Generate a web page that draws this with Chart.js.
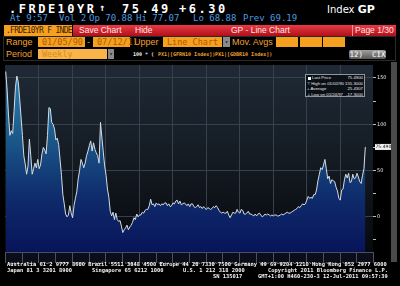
<!DOCTYPE html>
<html>
<head>
<meta charset="utf-8">
<script src="https://cdn.jsdelivr.net/npm/chart.js@4.4.1/dist/chart.umd.min.js"></script>
<style>
  html, body { margin: 0; padding: 0; background: #000; width: 400px; height: 286px; overflow: hidden; }
  body { position: relative; font-family: "DejaVu Sans Mono", monospace; color: #fff; }
  .a { position: absolute; white-space: pre; line-height: 1; }
  .big { font-size: 12px; font-weight: bold; letter-spacing: 2.5px; top: 3px; }
  .blue { font-size: 9px; color: #4a9be0; top: 14px; }
  .lbl { font-family: "Liberation Sans", sans-serif; font-size: 9px; color: #f0a030; }
  .box { background: #f5a01e; color: #b05800; font-size: 8.5px; height: 10px; line-height: 10px; padding-left: 4px; box-sizing: border-box; }
  .drop { background: #8a8a8a; height: 10px; width: 7px; color: #222; font-size: 6px; line-height: 10px; text-align: center; }
  .red { font-family: "Liberation Sans", sans-serif; font-size: 8.5px; color: #ffe6e6; top: 26px; }
  .tiny { font-size: 5px; font-weight: bold; top: 52px; }
  .foot { font-size: 5.4px; font-weight: bold; color: #f4f4f4; }
  .leg { font-family: "Liberation Sans", sans-serif; font-size: 4.3px; color: #e8e8e8; }
</style>
</head>
<body>
<!-- top line -->
<div class="a big" style="left:9px;">.FRDE10YR</div>
<div class="a" style="left:99px;top:3px;font-size:10px;font-weight:bold;">↑</div>
<div class="a big" style="left:122px;">75.49</div>
<div class="a big" style="left:179px;">+6.30</div>
<div class="a" style="left:327px;top:4px;font-family:'DejaVu Sans';font-size:10px;">Index <b style="font-size:11px;">GP</b></div>

<div class="a blue" style="left:10px;">At 9:57</div>
<div class="a blue" style="left:59px;">Vol 2</div>
<div class="a blue" style="left:89px;">Op 70.88</div>
<div class="a blue" style="left:136px;">Hi 77.07</div>
<div class="a blue" style="left:193px;">Lo 68.88</div>
<div class="a blue" style="left:243px;">Prev 69.19</div>

<!-- red menu bar -->
<div class="a" style="left:73px;top:25px;width:323px;height:11px;background:linear-gradient(#e83a44,#b0101a);"></div>
<div class="a" style="left:4px;top:25px;width:68px;height:11px;background:#f5a020;color:#3c2200;font-size:8px;letter-spacing:-0.7px;line-height:11px;padding-left:2px;box-sizing:border-box;">.FRDE10YR F INDE</div>
<div class="a red" style="left:79px;">Save Chart</div>
<div class="a red" style="left:135px;">Hide</div>
<div class="a red" style="left:231px;">GP - Line Chart</div>
<div class="a" style="left:352px;top:25px;width:43px;height:11px;border-left:1px solid #ff9090;box-sizing:border-box;"></div>
<div class="a red" style="left:355px;">Page 1/30</div>

<!-- settings rows -->
<div class="a" style="left:3px;top:36px;width:393px;height:25px;border:1px solid #2a2a2a;box-sizing:border-box;"></div>
<div class="a lbl" style="left:6px;top:38px;">Range</div>
<div class="a box" style="left:38px;top:37px;width:47px;">01/05/90</div>
<div class="a lbl" style="left:87px;top:38px;">-</div>
<div class="a box" style="left:93px;top:37px;width:37px;">07/12/11</div>
<div class="a lbl" style="left:134px;top:38px;">Upper</div>
<div class="a box" style="left:163px;top:37px;width:59px;">Line Chart</div>
<div class="a drop" style="left:223px;top:37px;">▾</div>
<div class="a lbl" style="left:232px;top:38px;">Mov. Avgs</div>
<div class="a box" style="left:276px;top:37px;width:22px;"></div>
<div class="a box" style="left:300px;top:37px;width:22px;"></div>
<div class="a box" style="left:323px;top:37px;width:22px;"></div>

<div class="a lbl" style="left:6px;top:50px;">Period</div>
<div class="a box" style="left:38px;top:49px;width:69px;background:#f8b448;color:#d98a1a;">Weekly</div>
<div class="a drop" style="left:108px;top:49px;width:6px;">▾</div>
<div class="a tiny" style="left:133px;color:#eeeeee;">100 * (</div>
<div class="a tiny" style="left:158px;color:#f0a030;">PX1|[GFRN10 Index]) -</div>
<div class="a tiny" style="left:215px;color:#f0a030;">PX1|[GDBR10 Index])</div>
<div class="a" style="left:349px;top:50px;width:37px;height:9px;border-radius:2px;background:linear-gradient(#a0a0a0,#585858);font-size:7.5px;line-height:9px;text-align:center;">12)  CIX</div>

<!-- chart -->
<canvas id="chart" width="391" height="203" style="position:absolute;left:0;top:61px;"></canvas>
<div class="a" style="left:391px;top:62px;width:6px;height:200px;background:#4a4a4a;"></div>

<!-- legend box inside plot -->
<div class="a" style="left:305px;top:74px;width:60px;height:23px;border:1px solid #8a96a0;background:#0b1016;box-sizing:border-box;"></div>
<div class="a" style="left:308px;top:76.5px;width:3px;height:3px;background:#fff;"></div>
<div class="a leg" style="left:312px;top:76px;">Last Price</div>
<div class="a leg" id="lastVal" style="right:37px;top:76px;"></div>
<div class="a leg" style="left:307px;top:81.5px;">⊤ High on 01/02/90</div>
<div class="a leg" style="right:37px;top:81.5px;">155.3000</div>
<div class="a leg" style="left:307px;top:87px;">+ Average</div>
<div class="a leg" style="right:37px;top:87px;">25.4307</div>
<div class="a leg" style="left:307px;top:92.5px;">⊥ Low on 01/24/97</div>
<div class="a leg" style="right:37px;top:92.5px;">-17.3000</div>

<!-- footer -->
<div class="a foot" style="left:7px;top:262px;">Australia 61 2 9777 8600 Brazil 5511 3048 4500 Europe 44 20 7330 7500 Germany 49 69 9204 1210 Hong Kong 852 2977 6000</div>
<div class="a foot" style="left:7px;top:268px;">Japan 81 3 3201 8900</div>
<div class="a foot" style="left:92px;top:268px;">Singapore 65 6212 1000</div>
<div class="a foot" style="left:183px;top:268px;">U.S. 1 212 318 2000</div>
<div class="a foot" style="left:268px;top:268px;">Copyright 2011 Bloomberg Finance L.P.</div>
<div class="a foot" style="left:213px;top:274px;">SN 135017</div>
<div class="a foot" style="left:258px;top:274px;">GMT+1:00 H460-230-3 12-Jul-2011 09:57:39</div>

<script>
  "use strict";

  // ── Data: France - Germany 10y spread (bp), one reading per month ──
  const years = [1990, 1991, 1992, 1993, 1994, 1995, 1996, 1997, 1998, 1999, 2000,
                 2001, 2002, 2003, 2004, 2005, 2006, 2007, 2008, 2009, 2010, 2011];

  const spread = [
    157, 138, 110, 88, 93, 90, 114, 140, 152, 146, 128, 108,   // 1990
    88, 66, 57, 46, 55, 84, 66, 46, 52, 58, 53, 62,            // 1991
    52, 56, 68, 75, 72, 68, 88, 118, 117, 102, 100, 95,        // 1992
    83, 85, 78, 62, 45, 24, 14, 3, 0, 2, 12, 4,                // 1993
    -1, 12, 20, 27, 41, 50, 62, 58, 53, 58, 66, 71,            // 1994
    77, 82, 71, 80, 73, 69, 66, 58, 102, 86, 70, 55,           // 1995
    45, 30, 21, 6, 1, 5, -3, 4, -3, -5, -4, -10,               // 1996
    -17, -14, -12, -9, -14, -11, -9, -6, -1, -3, 3, 0,         // 1997
    2, 2, 5, 4, 7, 8, 8, 12, 19, 13, 14, 11,                   // 1998
    15, 13, 14, 12, 14, 13, 15, 15, 12, 14, 11, 12,            // 1999
    15, 14, 17, 18, 14, 17, 13, 14, 15, 14, 12, 14,            // 2000
    11, 14, 14, 11, 10, 11, 13, 10, 11, 9, 11, 9,              // 2001
    8, 10, 9, 8, 9, 11, 10, 12, 10, 7, 5, 4,                   // 2002
    5, 4, 4, 6, 2, -1, 2, 5, 4, 4, 8, 5,                       // 2003
    4, 8, 7, 3, 3, 4, 6, 3, 3, 2, 1, 3,                        // 2004
    1, 3, 4, 2, 0, 1, 3, 2, 3, 2, 1, 2,                        // 2005
    1, 2, 2, 1, 1, 2, 3, 2, 3, 4, 5, 4,                        // 2006
    4, 5, 6, 7, 8, 9, 11, 10, 12, 14, 13, 14,                  // 2007
    18, 22, 20, 21, 20, 24, 24, 29, 39, 46, 53, 51,            // 2008
    56, 62, 52, 41, 44, 36, 40, 39, 38, 32, 28, 20,            // 2009
    18, 29, 30, 40, 46, 42, 47, 37, 38, 46, 41, 42,            // 2010
    47, 43, 38, 36, 45, 52, 75.49                              // 2011 (to July)
  ];

  const yTicks = [-25, 0, 25, 50, 75, 100, 125, 150];
  const yRange = [-38, 164];

  // month mid-points as decimal years
  const dates = [];
  years.forEach(function (y) {
    for (let m = 0; m < 12; m++) {
      if (dates.length < spread.length) dates.push(y + (m + 0.5) / 12);
    }
  });

  const lastPrice = spread[spread.length - 1];
  document.getElementById("lastVal").textContent = lastPrice.toFixed(4);

  const GRID = "#36414d";

  // ── Plugin: plot background, even-year grid, year strip, price tag ──
  const terminalLook = {
    id: "terminalLook",
    beforeDraw: function (chart) {
      const ctx = chart.ctx;
      const a = chart.chartArea;
      const g = ctx.createLinearGradient(0, a.top, 0, a.bottom);
      g.addColorStop(0, "#1f2a36");
      g.addColorStop(0.5, "#141b23");
      g.addColorStop(1, "#07090d");
      ctx.fillStyle = g;
      ctx.fillRect(a.left, a.top, a.right - a.left, a.bottom - a.top);
      ctx.fillStyle = "#0b0e1a";
      ctx.fillRect(a.left, a.bottom, a.right - a.left, chart.height - a.bottom - 1);
    },
    beforeDatasetsDraw: function (chart) {
      const ctx = chart.ctx;
      const a = chart.chartArea;
      const xs = chart.scales.x;
      ctx.save();
      ctx.strokeStyle = GRID;
      ctx.lineWidth = 1;
      years.forEach(function (y) {
        if (y % 2 !== 0 || y === years[0]) return;
        const px = Math.round(xs.getPixelForValue(y)) + 0.5;
        ctx.beginPath();
        ctx.moveTo(px, a.top);
        ctx.lineTo(px, a.bottom);
        ctx.stroke();
      });
      ctx.restore();
    },
    afterDraw: function (chart) {
      const ctx = chart.ctx;
      const a = chart.chartArea;
      const xs = chart.scales.x;
      const ys = chart.scales.y;
      ctx.save();
      // strip border + year separators
      ctx.strokeStyle = "#4a5060";
      ctx.lineWidth = 1;
      ctx.beginPath();
      ctx.moveTo(a.left, Math.round(a.bottom) + 0.5);
      ctx.lineTo(a.right, Math.round(a.bottom) + 0.5);
      ctx.stroke();
      years.concat([years[years.length - 1] + 1]).forEach(function (y) {
        const px = Math.round(xs.getPixelForValue(y)) + 0.5;
        ctx.beginPath();
        ctx.moveTo(px, a.bottom);
        ctx.lineTo(px, chart.height - 1);
        ctx.stroke();
      });
      // last price tag on the axis
      const py = ys.getPixelForValue(lastPrice);
      ctx.fillStyle = "#f2f2f2";
      ctx.fillRect(a.right + 2, py - 3, 16, 6);
      ctx.fillStyle = "#111";
      ctx.font = "4.5px 'DejaVu Sans'";
      ctx.textBaseline = "middle";
      ctx.fillText(lastPrice.toFixed(4), a.right + 2.5, py + 0.3);
      ctx.restore();
    }
  };

  const canvas = document.getElementById("chart");

  new Chart(canvas, {
    type: "line",
    data: {
      datasets: [
        {
          label: "FRDE10YR",
          data: dates.map(function (d, i) { return { x: d, y: spread[i] }; }),
          borderColor: "#d4dce4",
          borderWidth: 1,
          pointRadius: 0,
          tension: 0,
          fill: "start",
          backgroundColor: function (c) {
            const area = c.chart.chartArea;
            if (!area) return "#17457a";
            const g = c.chart.ctx.createLinearGradient(0, area.top, 0, area.bottom);
            g.addColorStop(0, "#2d86b8");
            g.addColorStop(0.35, "#1d5e8e");
            g.addColorStop(0.7, "#0f2c6c");
            g.addColorStop(1, "#08145a");
            return g;
          },
        },
      ],
    },
    options: {
      responsive: false,
      animation: false,
      devicePixelRatio: 1,
      layout: { padding: { left: 5, top: 1, right: 0, bottom: 0 } },
      plugins: {
        legend: { display: false },
        tooltip: { enabled: false },
      },
      scales: {
        x: {
          type: "linear",
          min: years[0],
          max: years[years.length - 1] + 1,
          afterBuildTicks: function (scale) {
            scale.ticks = years.map(function (y) { return { value: y + 0.5 }; });
          },
          afterFit: function (scale) { scale.height = 12; },
          grid: { display: false },
          border: { display: false },
          ticks: {
            autoSkip: false,
            maxRotation: 0,
            padding: 2,
            color: "#c4c4c4",
            font: { family: "DejaVu Sans", size: 4.6 },
            callback: function (v) { return String(Math.floor(v)); },
          },
        },
        y: {
          position: "right",
          min: yRange[0],
          max: yRange[1],
          afterBuildTicks: function (scale) {
            scale.ticks = yTicks.map(function (v) { return { value: v }; });
          },
          afterFit: function (scale) { scale.width = 18; },
          border: { display: false },
          grid: {
            color: function (c) {
              return c.tick && c.tick.value % 50 === 0 ? GRID : "rgba(0,0,0,0)";
            },
            tickColor: "#bbbbbb",
            tickLength: 3,
          },
          ticks: {
            padding: 1,
            color: "#e6e6e6",
            font: { family: "DejaVu Sans", size: 5 },
            callback: function (v) { return v % 50 === 0 && v >= 0 ? String(v) : ""; },
          },
        },
      },
    },
    plugins: [terminalLook],
  });
</script>
</body>
</html>
